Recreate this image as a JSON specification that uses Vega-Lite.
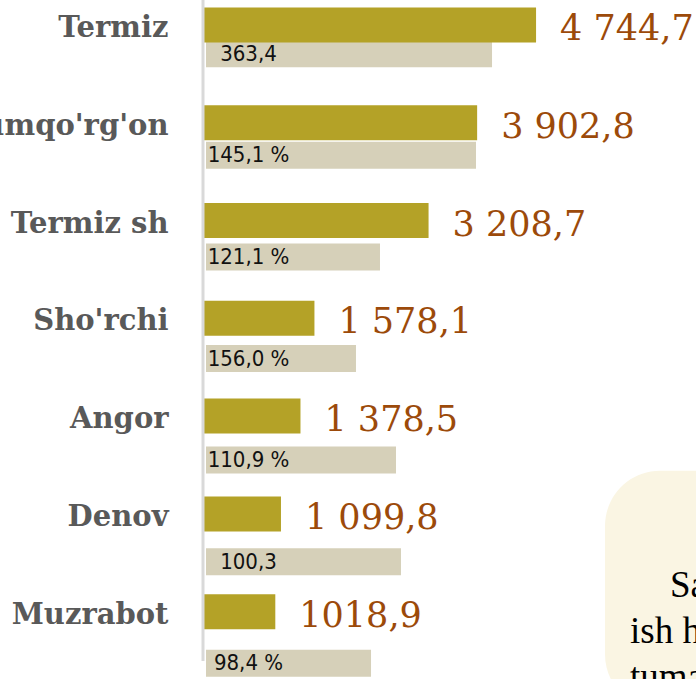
{
  "$schema": "https://vega.github.io/schema/vega-lite/v6.json",
  "width": 492,
  "height": 679,
  "autosize": {"type": "none"},
  "padding": {"left": 204, "top": 0, "right": 0, "bottom": 0},
  "background": "white",
  "config": {"view": {"stroke": null}},
  "datasets": {
    "rows": [
      {"district": "Termiz", "value": 4744.7, "label": "4 744,7", "w": 4087, "pct": "363,4"},
      {"district": "Qumqo'rg'on", "value": 3902.8, "label": "3 902,8", "w": 3858, "pct": "145,1 %"},
      {"district": "Termiz sh", "value": 3208.7, "label": "3 208,7", "w": 2486, "pct": "121,1 %"},
      {"district": "Sho'rchi", "value": 1578.1, "label": "1 578,1", "w": 2143, "pct": "156,0 %"},
      {"district": "Angor", "value": 1378.5, "label": "1 378,5", "w": 2715, "pct": "110,9 %"},
      {"district": "Denov", "value": 1099.8, "label": "1 099,8", "w": 2786, "pct": "100,3"},
      {"district": "Muzrabot", "value": 1018.9, "label": "1018,9", "w": 2358, "pct": "98,4 %"}
    ],
    "note1": [{"text": "Sa"}],
    "note2": [{"text": ["ish h", "tuma"]}]
  },
  "resolve": {"scale": {"y": "independent"}},
  "layer": [
    {
      "data": {"name": "rows"},
      "encoding": {
        "y": {
          "field": "district", "type": "nominal", "sort": null,
          "scale": {"domain": ["Termiz", "Qumqo'rg'on", "Termiz sh", "Sho'rchi", "Angor", "Denov", "Muzrabot"], "range": [3, 714], "paddingInner": 0, "paddingOuter": 0},
          "axis": null
        }
      },
      "layer": [
        {
          "mark": {"type": "bar", "color": "#d6d0b9", "height": 27, "xOffset": 2},
          "encoding": {
            "x": {"field": "w", "type": "quantitative", "scale": {"domain": [0, 7030], "nice": false, "zero": true}, "axis": null}
          }
        },
        {
          "mark": {"type": "text", "align": "center", "baseline": "middle", "dx": 44.5, "dy": 0, "font": "DejaVu Sans Condensed, DejaVu Sans", "fontSize": 22, "color": "#111111"},
          "encoding": {
            "x": {"datum": 0, "type": "quantitative", "scale": {"domain": [0, 7030], "nice": false, "zero": true}, "axis": null},
            "text": {"field": "pct"}
          }
        }
      ]
    },
    {
      "layer": [
        {
          "data": {"values": [{"a": 1}]},
          "mark": {"type": "rect", "color": "#faf5e3", "cornerRadius": 55},
          "encoding": {
            "x": {"datum": 5730, "type": "quantitative", "scale": {"domain": [0, 7030], "nice": false, "zero": true}, "axis": null},
            "x2": {"datum": 9000},
            "y": {"datum": "Denov", "type": "nominal", "bandPosition": 0.06},
            "y2": {"datum": "Muzrabot", "bandPosition": 1.5}
          }
        },
        {
          "data": {"name": "note1"},
          "mark": {"type": "text", "align": "left", "baseline": "alphabetic", "font": "Liberation Serif", "fontSize": 37, "color": "#000000"},
          "encoding": {
            "x": {"datum": 6659, "type": "quantitative"},
            "y": {"datum": "Muzrabot", "type": "nominal", "bandPosition": 0.349},
            "text": {"field": "text"}
          }
        },
        {
          "data": {"name": "note2"},
          "mark": {"type": "text", "align": "left", "baseline": "alphabetic", "font": "Liberation Serif", "fontSize": 37, "lineHeight": 46, "color": "#000000"},
          "encoding": {
            "x": {"datum": 6087, "type": "quantitative"},
            "y": {"datum": "Muzrabot", "type": "nominal", "bandPosition": 0.82},
            "text": {"field": "text"}
          }
        },
        {
          "data": {"name": "rows"},
          "mark": {"type": "bar", "color": "#b4a227", "height": 35},
          "encoding": {
            "x": {"field": "value", "type": "quantitative"},
            "y": {"field": "district", "type": "nominal"}
          }
        },
        {
          "data": {"name": "rows"},
          "mark": {"type": "text", "align": "left", "baseline": "middle", "dx": 24, "dy": 4, "font": "DejaVu Serif", "fontSize": 35, "color": "#9c4a0a"},
          "encoding": {
            "x": {"field": "value", "type": "quantitative"},
            "y": {"field": "district", "type": "nominal"},
            "text": {"field": "label"}
          }
        }
      ],
      "encoding": {
        "y": {
          "type": "nominal", "sort": null,
          "scale": {"domain": ["Termiz", "Qumqo'rg'on", "Termiz sh", "Sho'rchi", "Angor", "Denov", "Muzrabot"], "range": [-24, 660.6], "paddingInner": 0, "paddingOuter": 0},
          "axis": {"title": null, "ticks": false, "domainColor": "#d9d9d9", "domainWidth": 3, "offset": 1.5, "labelPadding": 34.5, "labelFont": "DejaVu Serif", "labelFontWeight": "bold", "labelFontSize": 29, "labelColor": "#595959", "labelLimit": 500, "labelOffset": 3}
        }
      }
    }
  ]
}
